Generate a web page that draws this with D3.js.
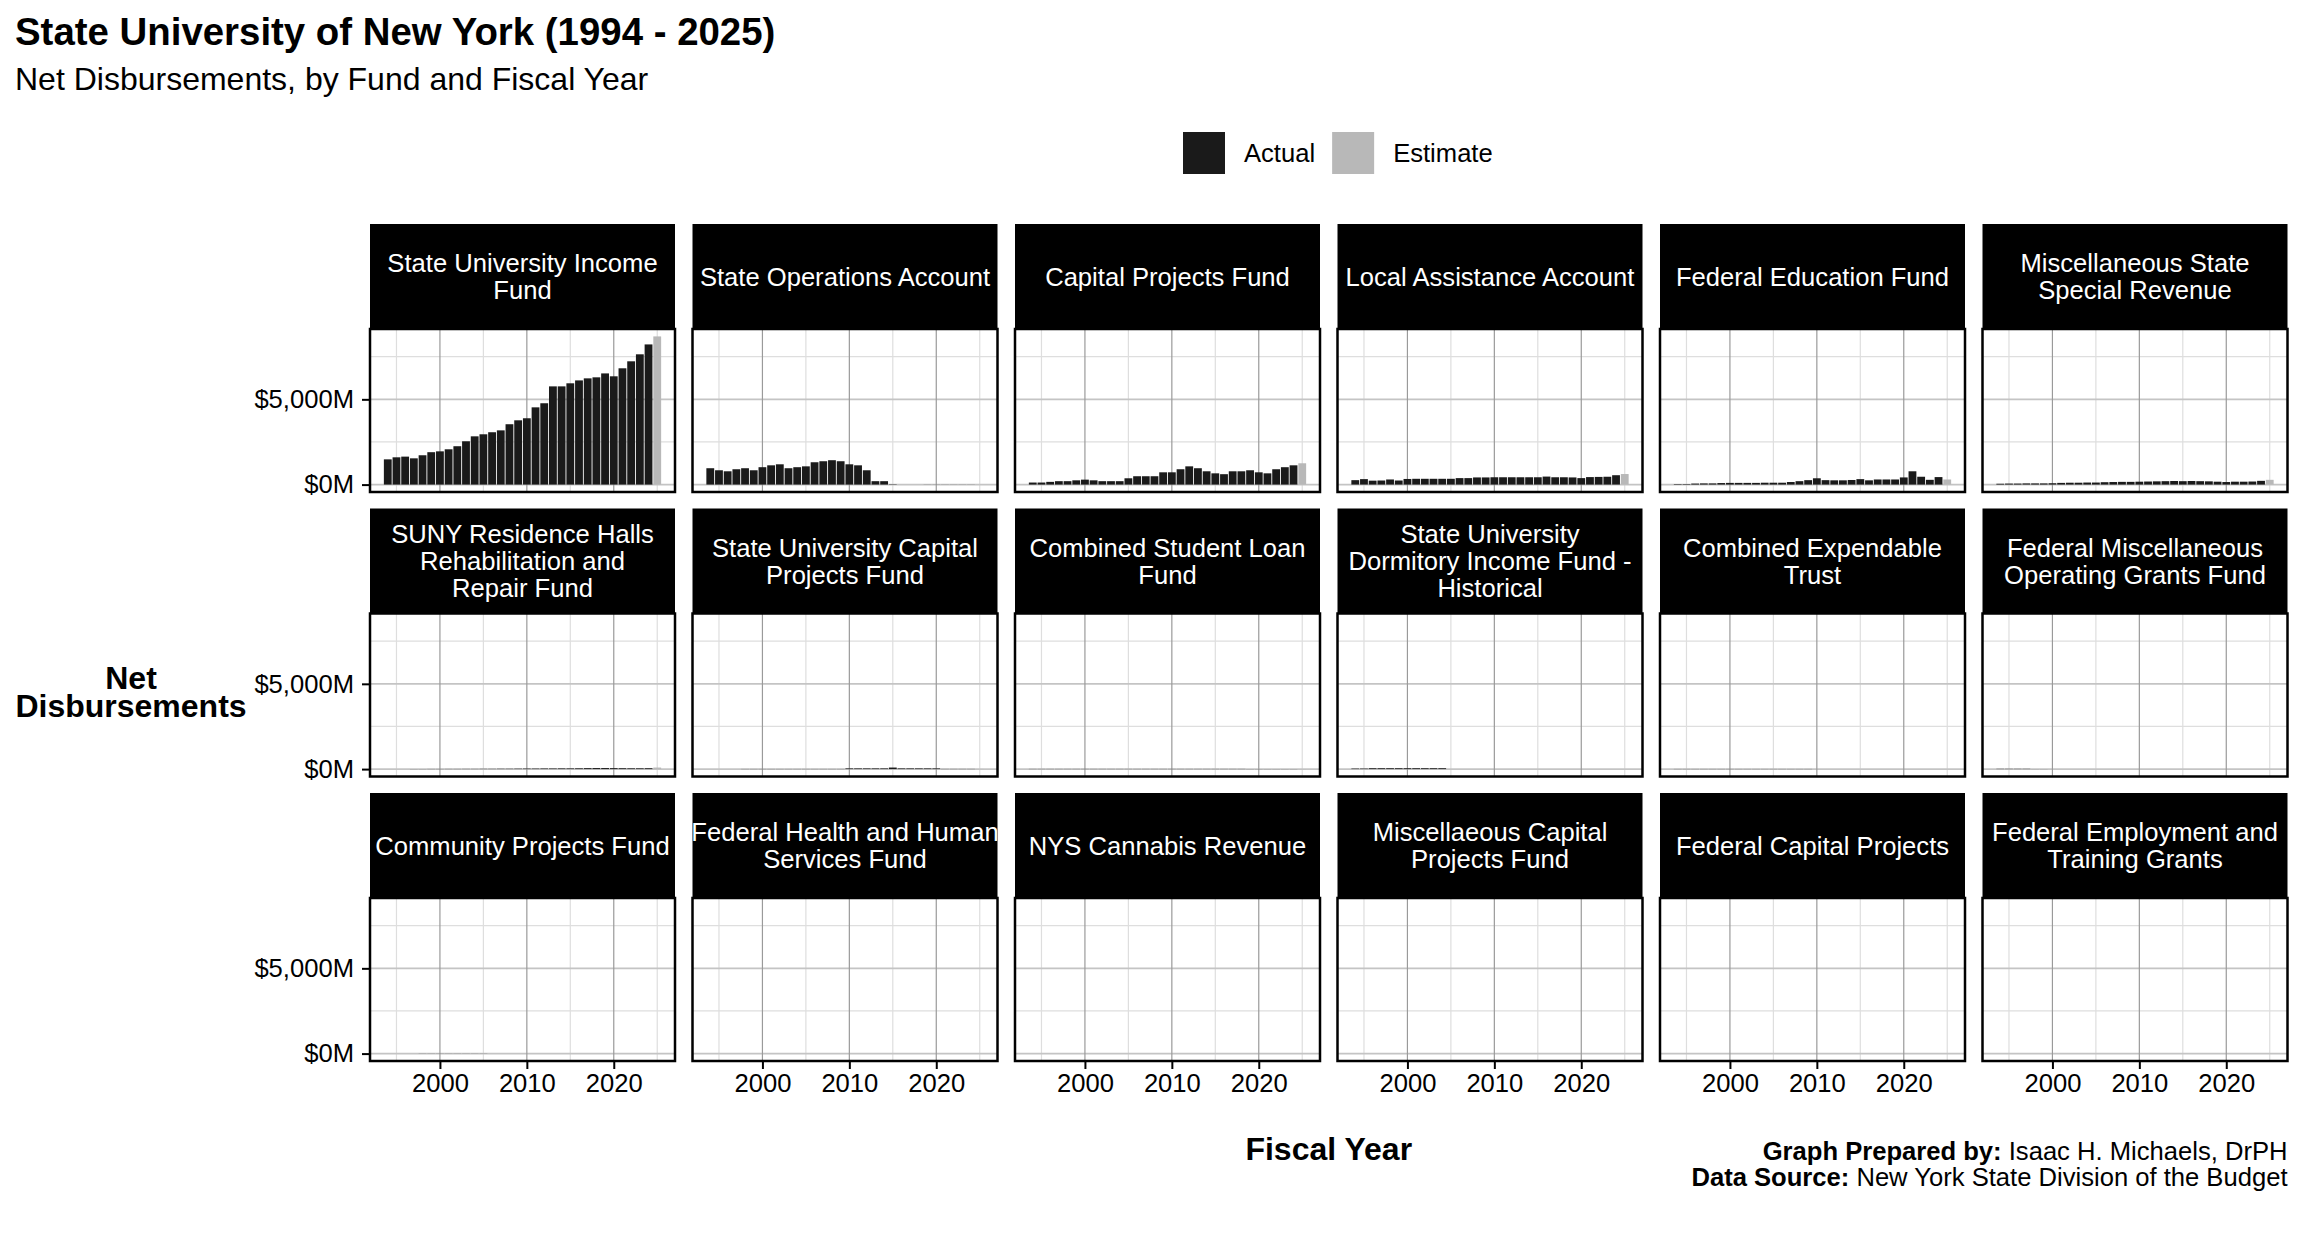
<!DOCTYPE html>
<html>
<head>
<meta charset="utf-8">
<script src="https://cdn.jsdelivr.net/npm/d3@7"></script>
<style>
  body { margin: 0; background: #ffffff; }
  svg text { font-family: "Liberation Sans", Arial, Helvetica, sans-serif; }
</style>
</head>
<body>
<script>

// -- data (millions of dollars, fiscal years 1994 - 2025) --

var years = [1994, 1995, 1996, 1997, 1998, 1999, 2000, 2001, 2002, 2003, 2004,
             2005, 2006, 2007, 2008, 2009, 2010, 2011, 2012, 2013, 2014, 2015,
             2016, 2017, 2018, 2019, 2020, 2021, 2022, 2023, 2024, 2025];
var estimateYear = 2025;

var fundNames = [
    "State University Income\nFund",
    "State Operations Account",
    "Capital Projects Fund",
    "Local Assistance Account",
    "Federal Education Fund",
    "Miscellaneous State\nSpecial Revenue",
    "SUNY Residence Halls\nRehabilitation and\nRepair Fund",
    "State University Capital\nProjects Fund",
    "Combined Student Loan\nFund",
    "State University\nDormitory Income Fund -\nHistorical",
    "Combined Expendable\nTrust",
    "Federal Miscellaneous\nOperating Grants Fund",
    "Community Projects Fund",
    "Federal Health and Human\nServices Fund",
    "NYS Cannabis Revenue",
    "Miscellaeous Capital\nProjects Fund",
    "Federal Capital Projects",
    "Federal Employment and\nTraining Grants"
];

var stateUniversityIncome = [1480, 1600, 1640, 1540, 1720, 1900, 1950, 2070, 2250, 2540, 2830,
                             2950, 3070, 3180, 3540, 3770, 3890, 4530, 4770, 5760, 5760, 5940,
                             6110, 6230, 6290, 6520, 6350, 6820, 7230, 7640, 8220, 8690];
var stateOperations = [960, 840, 780, 900, 960, 840, 1020, 1130, 1190, 960, 1020,
                       1070, 1310, 1370, 1430, 1370, 1190, 1130, 840, 200, 200, 20,
                       0, 0, 0, 5, 5, 5, 5, 5, 5, 0];
var capitalProjects = [120, 120, 160, 200, 200, 250, 290, 250, 200, 200, 200,
                       370, 490, 490, 490, 720, 720, 900, 1070, 960, 780, 660,
                       610, 780, 780, 840, 720, 660, 900, 1020, 1130, 1250];
var localAssistance = [260, 320, 230, 240, 300, 240, 330, 340, 340, 340, 340,
                       340, 380, 380, 420, 420, 430, 430, 430, 430, 430, 430,
                       470, 430, 430, 420, 380, 440, 450, 460, 550, 620];
var federalEducation = [30, 30, 60, 70, 70, 90, 100, 100, 100, 100, 110,
                        110, 110, 150, 200, 260, 370, 260, 250, 250, 270, 320,
                        250, 300, 300, 300, 420, 780, 460, 280, 440, 300];
var miscStateSpecial = [50, 60, 60, 70, 70, 70, 80, 100, 110, 110, 120,
                        120, 140, 150, 160, 160, 170, 180, 190, 200, 210, 200,
                        210, 200, 190, 170, 150, 170, 170, 180, 220, 280];
var sunyResidenceHalls = [0, 0, 0, 5, 5, 8, 8, 10, 10, 12, 12,
                          15, 15, 20, 20, 25, 30, 30, 35, 35, 40, 40,
                          45, 55, 60, 60, 55, 50, 45, 45, 50, 90];
var stateUnivCapital = [0, 0, 0, 0, 8, 8, 8, 8, 8, 8, 8,
                        8, 8, 8, 8, 8, 40, 40, 40, 40, 40, 90,
                        40, 40, 40, 40, 40, 10, 10, 10, 10, 10];
var studentLoan = [10, 10, 10, 10, 10, 10, 10, 10, 10, 10, 10,
                   10, 10, 10, 10, 10, 10, 10, 10, 10, 10, 10,
                   10, 10, 10, 5, 5, 5, 5, 5, 5, 5];
var dormitoryIncome = [30, 30, 50, 50, 50, 50, 50, 50, 50, 50, 50,
                       0, 0, 0, 0, 0, 0, 0, 0, 0, 0, 0,
                       0, 0, 0, 0, 0, 0, 0, 0, 0, 0];
var expendableTrust = [8, 8, 8, 8, 8, 8, 8, 8, 8, 8, 8,
                       8, 8, 8, 8, 8, 0, 0, 0, 0, 0, 0,
                       0, 0, 0, 0, 0, 0, 0, 0, 0, 0];
var federalMiscOperating = [15, 15, 15, 15, 3, 3, 0, 0, 0, 0, 0,
                            0, 0, 0, 0, 0, 0, 0, 0, 0, 0, 0,
                            0, 0, 0, 0, 0, 0, 0, 0, 0, 0];
var communityProjects = [0, 0, 0, 0, 5, 5, 5, 5, 5, 5, 5,
                         5, 0, 0, 0, 0, 0, 0, 0, 0, 0, 0,
                         0, 0, 0, 0, 0, 0, 0, 0, 0, 0];
var federalHealth = [];
var cannabisRevenue = [];
var miscCapital = [];
var federalCapital = [];
var federalEmployment = [];

var fundValues = [stateUniversityIncome, stateOperations, capitalProjects, localAssistance,
                  federalEducation, miscStateSpecial, sunyResidenceHalls, stateUnivCapital,
                  studentLoan, dormitoryIncome, expendableTrust, federalMiscOperating,
                  communityProjects, federalHealth, cannabisRevenue, miscCapital,
                  federalCapital, federalEmployment];

var yTicks = [0, 5000];
var yMinorTicks = [2500, 7500];
var xTicks = [2000, 2010, 2020];
var xMinorTicks = [1995, 2005, 2015, 2025];

var legendLabels = ["Actual", "Estimate"];
var legendColors = ["#1a1a1a", "#b8b8b8"];

// -- layout --

var width = 2304;
var height = 1248;

var cols = 6;
var panelLeft = 370;
var colStep = 322.5;
var pw = 305;
var stripTop = 224;
var rowStep = 284.5;
var stripH = 105;
var ph = 163;

var small = "25.6px";

var svg = d3.select("body").append("svg")
    .attr("width", width)
    .attr("height", height);

svg.append("rect")
    .attr("width", width).attr("height", height)
    .style("fill", "#ffffff");

// scales shared by every panel (fixed scales, ggplot style expansion)
var xlo = d3.min(years) - 0.45, xhi = d3.max(years) + 0.45;
var xpad = (xhi - xlo) * 0.05;
var x = d3.scaleLinear().domain([xlo - xpad, xhi + xpad]).range([0, pw]);

var ymax = d3.max(fundValues, function (v) { return d3.max(v) || 0; });
var y = d3.scaleLinear().domain([-0.05 * ymax, 1.05 * ymax]).range([ph, 0]);

var money = function (v) { return "$" + d3.format(",")(v) + "M"; };

// -- panels --

fundNames.forEach(function (name, i) {
    var c = i % cols, r = Math.floor(i / cols);
    var px = panelLeft + c * colStep;
    var py = stripTop + r * rowStep + stripH;
    var g = svg.append("g").attr("transform", "translate(" + px + "," + py + ")");

    drawGrid(g);
    drawBars(g, fundValues[i]);

    g.append("rect")
        .attr("width", pw).attr("height", ph)
        .style("fill", "none")
        .style("stroke", "#000")
        .style("stroke-width", 2.5);

    drawStrip(g, name, i);

    if (c === 0) {
        var ya = g.append("g").call(d3.axisLeft(y).tickValues(yTicks).tickFormat(money)
            .tickSize(8).tickPadding(8));
        styleAxis(ya);
    }
    if (r === Math.floor((fundNames.length - 1) / cols)) {
        var xa = g.append("g").attr("transform", "translate(0," + ph + ")")
            .call(d3.axisBottom(x).tickValues(xTicks).tickFormat(d3.format("d"))
                .tickSize(8).tickPadding(5));
        styleAxis(xa);
    }
});

function drawGrid(g) {
    g.selectAll("line.ymin").data(yMinorTicks.filter(function (v) { return v <= y.domain()[1]; }))
        .enter().append("line")
        .attr("x1", 0).attr("x2", pw)
        .attr("y1", y).attr("y2", y)
        .style("stroke", "#dedede").style("stroke-width", 1.2);
    g.selectAll("line.xmin").data(xMinorTicks)
        .enter().append("line")
        .attr("x1", x).attr("x2", x)
        .attr("y1", 0).attr("y2", ph)
        .style("stroke", "#dedede").style("stroke-width", 1.2);
    g.selectAll("line.ymaj").data(yTicks)
        .enter().append("line")
        .attr("x1", 0).attr("x2", pw)
        .attr("y1", y).attr("y2", y)
        .style("stroke", "#c4c4c4").style("stroke-width", 1.6);
    g.selectAll("line.xmaj").data(xTicks)
        .enter().append("line")
        .attr("x1", x).attr("x2", x)
        .attr("y1", 0).attr("y2", ph)
        .style("stroke", "#9a9a9a").style("stroke-width", 1.2);
}

function drawBars(g, values) {
    var bw = x(years[0] + 0.45) - x(years[0] - 0.45);
    g.selectAll("rect.bar").data(values)
        .enter().append("rect")
        .attr("class", "bar")
        .attr("x", function (v, j) { return x(years[j] - 0.45); })
        .attr("width", bw)
        .attr("y", function (v) { return y(Math.max(v, 0)); })
        .attr("height", function (v) { return Math.abs(y(v) - y(0)); })
        .style("fill", function (v, j) {
            return years[j] === estimateYear ? legendColors[1] : legendColors[0];
        });
}

function drawStrip(g, name, i) {
    var clipId = "strip-clip-" + i;
    g.append("clipPath").attr("id", clipId)
        .append("rect")
        .attr("x", 0).attr("y", -stripH)
        .attr("width", pw).attr("height", stripH);

    g.append("rect")
        .attr("x", 0).attr("y", -stripH)
        .attr("width", pw).attr("height", stripH)
        .style("fill", "#000");

    var lines = name.split("\n");
    var mid = -stripH / 2;
    var t = g.append("text")
        .attr("clip-path", "url(#" + clipId + ")")
        .attr("text-anchor", "middle")
        .style("font-size", small)
        .style("fill", "#fff");
    lines.forEach(function (ln, k) {
        t.append("tspan")
            .attr("x", pw / 2)
            .attr("y", mid + (k - (lines.length - 1) / 2) * 27 + 9)
            .text(ln);
    });
}

function styleAxis(a) {
    a.attr("font-family", null).attr("font-size", null);
    a.select(".domain").remove();
    a.selectAll(".tick line").style("stroke", "#000").style("stroke-width", 2);
    a.selectAll(".tick text").style("font-size", small).style("fill", "#000");
}

// -- titles --

svg.append("text")
    .attr("x", 15).attr("y", 45)
    .style("font-size", "38.4px")
    .style("font-weight", "bold")
    .text("State University of New York (1994 - 2025)");

svg.append("text")
    .attr("x", 15).attr("y", 90)
    .style("font-size", "32px")
    .text("Net Disbursements, by Fund and Fiscal Year");

// -- legend --

var lx = 1183;
legendLabels.forEach(function (label, k) {
    svg.append("rect")
        .attr("x", lx).attr("y", 132)
        .attr("width", 42).attr("height", 42)
        .style("fill", legendColors[k]);
    var t = svg.append("text")
        .attr("x", lx + 61).attr("y", 162)
        .style("font-size", small)
        .text(label);
    lx = lx + 61 + t.node().getComputedTextLength() + 17;
});

// -- axis titles --

var gridMid = panelLeft + ((cols - 1) * colStep + pw) / 2;

svg.append("text")
    .attr("x", gridMid).attr("y", 1160)
    .attr("text-anchor", "middle")
    .style("font-size", "32px")
    .style("font-weight", "bold")
    .text("Fiscal Year");

var yt = svg.append("text")
    .attr("text-anchor", "middle")
    .style("font-size", "32px")
    .style("font-weight", "bold");
yt.append("tspan").attr("x", 131).attr("y", 689).text("Net");
yt.append("tspan").attr("x", 131).attr("y", 717).text("Disbursements");

// -- caption --

var capRight = panelLeft + (cols - 1) * colStep + pw;
var cap1 = svg.append("text")
    .attr("x", capRight).attr("y", 1160)
    .attr("text-anchor", "end")
    .style("font-size", small);
cap1.append("tspan").style("font-weight", "bold").text("Graph Prepared by:");
cap1.append("tspan").text(" Isaac H. Michaels, DrPH");

var cap2 = svg.append("text")
    .attr("x", capRight).attr("y", 1186)
    .attr("text-anchor", "end")
    .style("font-size", small);
cap2.append("tspan").style("font-weight", "bold").text("Data Source:");
cap2.append("tspan").text(" New York State Division of the Budget");

</script>
</body>
</html>
